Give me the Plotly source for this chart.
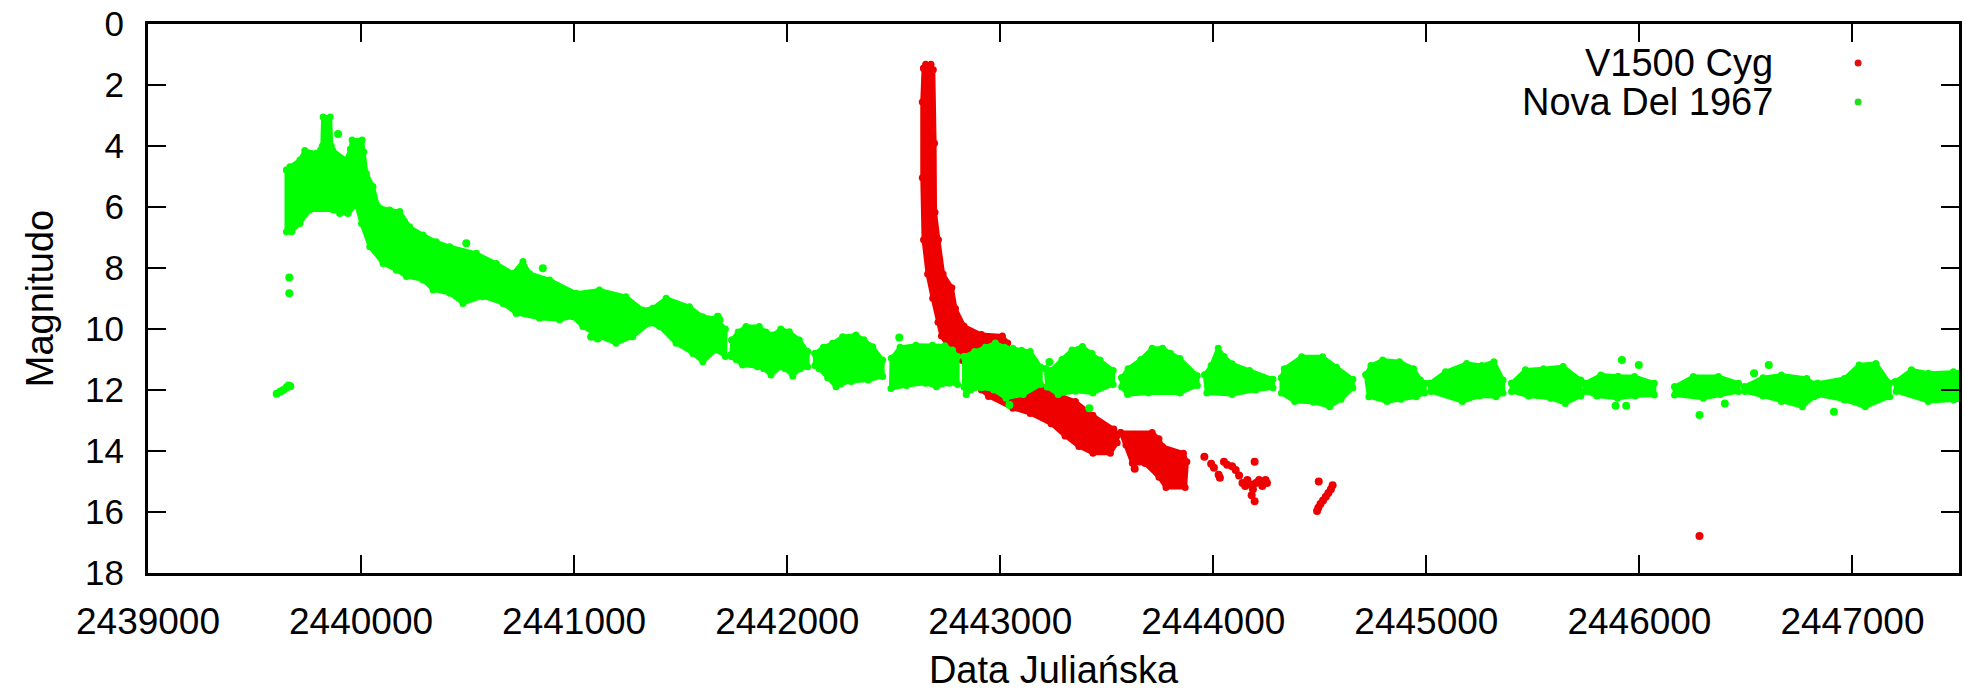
import plotly.graph_objects as go

# ---------------- data ----------------
x_ticks = [2439000, 2440000, 2441000, 2442000, 2443000, 2444000, 2445000, 2446000, 2447000]
y_ticks = [0, 2, 4, 6, 8, 10, 12, 14, 16, 18]
series_names = ["V1500 Cyg", "Nova Del 1967"]

# V1500 Cyg: dense clouds of observations (outlines of the point clouds, JD / magnitude)
cyg_blob_1 = [(2442640, 1.45), (2442650, 1.32), (2442675, 1.32), (2442686, 1.5), (2442692, 3.91),
              (2442694, 6.17), (2442710, 7.07),
              (2442732, 8.20), (2442773, 8.65), (2442790, 9.33), (2442830, 9.90), (2442912, 10.18),
              (2443010, 10.23), (2443035, 10.46), (2443059, 11.9), (2443141, 11.9), (2443206, 11.93),
              (2443272, 12.15), (2443353, 12.38), (2443435, 12.83), (2443533, 13.28), (2443549, 13.5),
              (2443549, 13.73), (2443517, 14.07), (2443435, 14.07), (2443369, 13.85), (2443304, 13.51),
              (2443239, 13.11), (2443141, 12.77), (2443059, 12.60), (2442945, 12.21), (2442912, 12.0),
              (2442863, 11.2), (2442781, 10.97), (2442765, 10.69), (2442724, 10.23), (2442708, 9.78),
              (2442683, 8.99), (2442659, 8.20), (2442640, 7.07), (2442634, 5.04), (2442634, 2.56)]
cyg_blob_2 = [(2443565, 13.39), (2443713, 13.39), (2443745, 13.6), (2443762, 13.85), (2443860, 14.07),
              (2443876, 14.35), (2443868, 15.2), (2443778, 15.2), (2443745, 14.86), (2443680, 14.41),
              (2443620, 14.4), (2443590, 13.8)]
cyg_points = [(2443631, 14.58), (2443958, 14.19), (2443990, 14.42), (2444003, 14.55), (2444025, 14.78),
              (2444031, 14.88), (2444050, 14.35), (2444065, 14.45), (2444088, 14.50), (2444105, 14.62),
              (2444121, 14.80), (2444137, 15.05), (2444150, 15.15), (2444160, 14.95), (2444175, 15.10),
              (2444186, 15.25), (2444194, 14.35), (2444200, 15.05), (2444215, 14.95), (2444230, 15.15),
              (2444245, 14.95), (2444252, 15.05), (2444194, 15.65), (2444180, 15.45), (2444495, 15.0),
              (2444560, 15.12), (2444552, 15.25), (2444540, 15.38), (2444528, 15.5), (2444515, 15.62),
              (2444503, 15.74), (2444493, 15.86), (2444487, 15.97), (2446282, 16.79)]

# Nova Del 1967 (HR Del): outlines of the seasonal point clouds
del_blob_1 = [(2439650, 4.79), (2439666, 4.68), (2439713, 4.46), (2439736, 4.15), (2439791, 4.24),
              (2439810, 4.13), (2439818, 4.0), (2439822, 3.05), (2439855, 3.05), (2439860, 4.0),
              (2439866, 4.13), (2439931, 4.46), (2439950, 4.1), (2439958, 3.80), (2440005, 3.80),
              (2440012, 4.2), (2440025, 4.90), (2440056, 5.33), (2440080, 5.99), (2440135, 6.10),
              (2440182, 6.15), (2440228, 6.65), (2440291, 6.92), (2440353, 7.14), (2440416, 7.30),
              (2440541, 7.52), (2440635, 7.85), (2440713, 8.18), (2440760, 7.79), (2440791, 8.18),
              (2440885, 8.39), (2441010, 8.83), (2441119, 8.72), (2441244, 8.94), (2441322, 9.38),
              (2441369, 9.32), (2441432, 8.99), (2441541, 9.27), (2441604, 9.60), (2441666, 9.65),
              (2441710, 10.0),
              (2441710, 10.9), (2441666, 10.69), (2441604, 11.07), (2441557, 10.80), (2441479, 10.47),
              (2441401, 9.92), (2441354, 9.81), (2441275, 10.25), (2441197, 10.47), (2441119, 10.25),
              (2441041, 9.92), (2440994, 9.60), (2440932, 9.70), (2440838, 9.65), (2440728, 9.49),
              (2440666, 9.16), (2440572, 8.94), (2440478, 9.16), (2440416, 8.83), (2440338, 8.72),
              (2440291, 8.39), (2440213, 8.28), (2440166, 8.07), (2440103, 7.85), (2440041, 7.30),
              (2440002, 6.54), (2439978, 5.93), (2439939, 6.21), (2439900, 6.21), (2439869, 6.10),
              (2439759, 6.10), (2439713, 6.54), (2439674, 6.81), (2439650, 6.81)]
del_blob_2 = [(2441740, 10.36), (2441770, 10.1), (2441807, 9.92), (2441869, 9.92), (2441900, 10.1),
              (2441932, 10.2), (2441970, 10.0), (2442010, 10.09), (2442057, 10.36), (2442096, 10.74),
              (2442096, 11.24), (2442060, 11.3), (2442026, 11.54), (2441990, 11.3), (2441970, 11.24),
              (2441924, 11.51), (2441890, 11.3), (2441860, 11.24), (2441791, 11.18), (2441760, 11.0),
              (2441740, 10.91)]
del_blob_3 = [(2442130, 10.8), (2442170, 10.6), (2442213, 10.47), (2442260, 10.25), (2442323, 10.2),
              (2442360, 10.35), (2442401, 10.58), (2442448, 11.02),
              (2442448, 11.56), (2442380, 11.67), (2442300, 11.72), (2442250, 11.8), (2442229, 11.89),
              (2442190, 11.6), (2442150, 11.3), (2442130, 11.2)]
del_blob_4 = [(2442490, 10.96), (2442530, 10.6), (2442604, 10.53), (2442682, 10.53), (2442740, 10.55),
              (2442776, 10.69), (2442800, 10.9),
              (2442800, 11.82), (2442760, 11.78), (2442700, 11.89), (2442650, 11.78), (2442560, 11.85),
              (2442487, 11.95)]
del_blob_5 = [(2442830, 10.9), (2442880, 10.74), (2442930, 10.6), (2442977, 10.46), (2443020, 10.6),
              (2443059, 10.63), (2443100, 10.7), (2443141, 10.74), (2443190, 11.25),
              (2443190, 11.82), (2443108, 12.15), (2443027, 12.27), (2442970, 12.0), (2442912, 11.93),
              (2442860, 12.0), (2442840, 12.15), (2442830, 11.9)]
del_blob_6 = [(2443214, 11.3), (2443239, 11.36), (2443290, 11.0), (2443337, 10.69), (2443386, 10.57),
              (2443430, 10.8), (2443468, 11.02), (2443530, 11.36),
              (2443530, 11.82), (2443435, 12.10), (2443353, 12.04), (2443272, 12.15), (2443220, 11.9)]
del_blob_7 = [(2443570, 11.6), (2443600, 11.3), (2443660, 11.0), (2443713, 10.63), (2443762, 10.63),
              (2443800, 10.8), (2443843, 10.97), (2443925, 11.53),
              (2443925, 11.85), (2443843, 12.10), (2443696, 12.10), (2443598, 12.15), (2443570, 11.9)]
del_blob_8 = [(2443960, 11.5), (2443990, 11.2), (2444023, 10.63), (2444050, 10.9), (2444088, 11.14),
              (2444170, 11.36), (2444280, 11.65),
              (2444280, 11.93), (2444200, 12.0), (2444088, 12.15), (2443970, 12.10)]
del_blob_9 = [(2444320, 11.6), (2444333, 11.3), (2444415, 10.91), (2444513, 10.91), (2444578, 11.25),
              (2444655, 11.65),
              (2444655, 11.93), (2444600, 12.3), (2444546, 12.55), (2444470, 12.4), (2444382, 12.38),
              (2444320, 12.1)]
del_blob_10 = [(2444716, 11.5), (2444740, 11.2), (2444795, 11.02), (2444874, 11.07), (2444940, 11.3),
               (2444972, 11.67), (2444992, 11.78),
               (2444992, 12.1), (2444953, 12.22), (2444880, 12.3), (2444815, 12.38), (2444730, 12.22)]
del_blob_11 = [(2445015, 11.78), (2445090, 11.40), (2445189, 11.13), (2445260, 11.2), (2445317, 11.07),
               (2445360, 11.67),
               (2445360, 12.1), (2445327, 12.22), (2445250, 12.2), (2445169, 12.38), (2445020, 12.05)]
del_blob_12 = [(2445400, 11.78), (2445465, 11.34), (2445550, 11.3), (2445642, 11.23), (2445725, 11.67),
               (2445725, 12.2), (2445652, 12.44), (2445583, 12.27), (2445480, 12.2), (2445400, 12.05)]
del_blob_13 = [(2445745, 11.78), (2445819, 11.51), (2445900, 11.55), (2445977, 11.56), (2446070, 11.78),
               (2446070, 12.16), (2445980, 12.2), (2445898, 12.27), (2445800, 12.2), (2445745, 12.05)]
del_blob_14 = [(2446165, 11.89), (2446253, 11.56), (2446371, 11.56), (2446465, 11.78),
               (2446465, 12.05), (2446380, 12.15), (2446300, 12.27), (2446165, 12.16)]
del_blob_15 = [(2446492, 11.89), (2446580, 11.6), (2446666, 11.51), (2446785, 11.62), (2446820, 11.8),
               (2446820, 12.22), (2446765, 12.55), (2446666, 12.38), (2446580, 12.2), (2446495, 12.05)]
del_blob_16 = [(2446837, 11.78), (2446962, 11.62), (2447031, 11.18), (2447110, 11.13), (2447175, 11.78),
               (2447175, 12.22), (2447060, 12.55), (2446962, 12.33), (2446837, 12.16)]
del_blob_17 = [(2447200, 11.73), (2447277, 11.34), (2447356, 11.45), (2447474, 11.40), (2447520, 11.4),
               (2447520, 12.33), (2447474, 12.33), (2447356, 12.38), (2447205, 12.05)]
del_points = [(2439604, 12.12), (2439620, 12.06), (2439635, 12.0), (2439650, 11.92), (2439660, 11.85),
              (2439668, 11.88), (2439663, 8.31), (2439663, 8.83), (2439892, 3.61), (2440494, 7.19),
              (2440853, 8.01), (2441080, 10.25), (2441111, 10.31), (2441682, 9.70), (2441737, 10.85),
              (2441674, 9.6), (2442526, 10.28), (2443043, 12.49), (2443418, 12.6), (2443231, 11.08),
              (2445918, 11.02), (2445997, 11.18), (2445888, 12.52), (2445938, 12.52), (2446282, 12.82),
              (2446401, 12.44), (2446538, 11.45), (2446607, 11.18), (2446913, 12.71)]

# ---------------- build ----------------
RED = "#ee0000"
GREEN = "#00ff00"
FONT = "Liberation Sans, Arial, sans-serif"


def outlines(blobs):
    xs, ys = [], []
    for b in blobs:
        xs += [p[0] for p in b] + [b[0][0], None]
        ys += [p[1] for p in b] + [b[0][1], None]
    return xs, ys


cyg_x, cyg_y = outlines([cyg_blob_1, cyg_blob_2])
del_x, del_y = outlines([del_blob_1, del_blob_2, del_blob_3, del_blob_4, del_blob_5, del_blob_6,
                         del_blob_7, del_blob_8, del_blob_9, del_blob_10, del_blob_11, del_blob_12,
                         del_blob_13, del_blob_14, del_blob_15, del_blob_16, del_blob_17])

fig = go.Figure()
fig.add_trace(go.Scatter(x=cyg_x, y=cyg_y, mode="lines+markers", fill="toself", fillcolor=RED,
                         line=dict(color=RED, width=4), marker=dict(color=RED, size=7),
                         showlegend=False, hoverinfo="skip"))
fig.add_trace(go.Scatter(x=[p[0] for p in cyg_points], y=[p[1] for p in cyg_points], mode="markers",
                         name=series_names[0], marker=dict(color=RED, size=8), showlegend=False))
fig.add_trace(go.Scatter(x=del_x, y=del_y, mode="lines+markers", fill="toself", fillcolor=GREEN,
                         line=dict(color=GREEN, width=4), marker=dict(color=GREEN, size=7),
                         showlegend=False, hoverinfo="skip"))
fig.add_trace(go.Scatter(x=[p[0] for p in del_points], y=[p[1] for p in del_points], mode="markers",
                         name=series_names[1], marker=dict(color=GREEN, size=8), showlegend=False))

axis_common = dict(showline=True, linewidth=3, linecolor="black", mirror="ticks",
                   ticks="inside", ticklen=18, tickwidth=2, tickcolor="black",
                   showgrid=False, zeroline=False)

fig.update_xaxes(range=[2439000, 2447500], tickvals=x_ticks, ticktext=[str(v) for v in x_ticks],
                 tickfont=dict(family=FONT, size=37, color="black"), ticklabelstandoff=14,
                 title=dict(text="Data Juliańska", font=dict(family=FONT, size=38, color="black"),
                            standoff=16),
                 **axis_common)
fig.update_yaxes(range=[18, 0], tickvals=y_ticks, ticktext=[str(v) for v in y_ticks],
                 tickfont=dict(family=FONT, size=35, color="black"), ticklabelstandoff=14,
                 title=dict(text="Magnitudo", font=dict(family=FONT, size=38, color="black"),
                            standoff=20),
                 **axis_common)

# legend (text right-aligned, symbol to the right, as in the original)
leg_x_text = (1777 - 148) / 1813
leg_x_sym = (1860 - 148) / 1813
leg_colors = ["#dd1111", "#22dd22"]
for i, (name, col) in enumerate(zip(series_names, leg_colors)):
    ypx = 63 + 39 * i
    yp = (573 - ypx) / 549
    fig.add_annotation(x=leg_x_text, y=yp, xref="paper", yref="paper", text=name, showarrow=False,
                       xanchor="right", yanchor="middle",
                       font=dict(family=FONT, size=38, color="black"))
    fig.add_shape(type="circle", xref="paper", yref="paper", xsizemode="pixel", ysizemode="pixel",
                  xanchor=leg_x_sym, yanchor=yp, x0=-3.5, x1=3.5, y0=-3.5, y1=3.5,
                  fillcolor=col, line=dict(width=0))

fig.update_layout(width=1965, height=691, margin=dict(l=148, r=3, t=24, b=118),
                  paper_bgcolor="white", plot_bgcolor="white", showlegend=False,
                  font=dict(family=FONT, color="black"))

fig.write_html("out.html")
